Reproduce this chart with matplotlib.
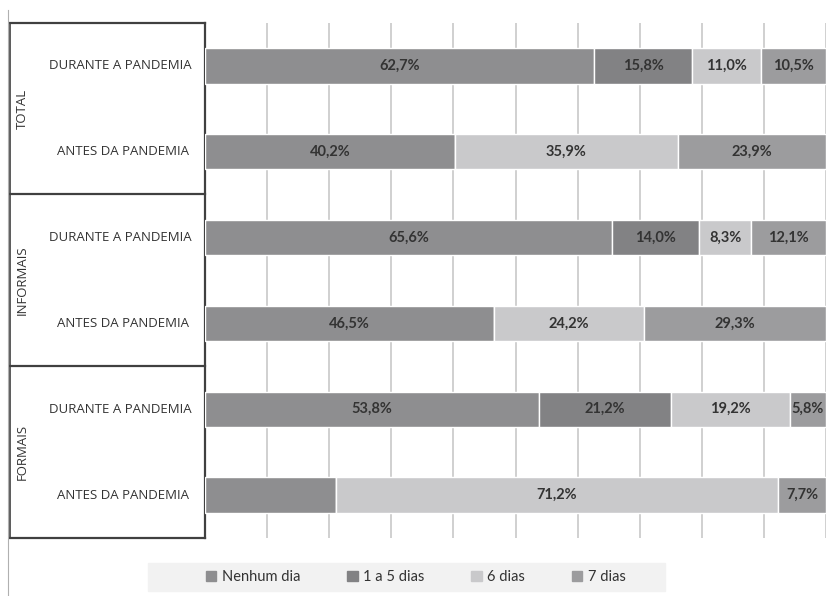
import matplotlib.pyplot as plt
import matplotlib.lines as mlines
import matplotlib.patches as mpatches
import numpy as np

plt.rcParams['font.family'] = ['Lato', 'DejaVu Sans']

#%% data
groups = ['TOTAL', 'INFORMAIS', 'FORMAIS']
rows = ['DURANTE A PANDEMIA', 'ANTES DA PANDEMIA'] * 3
series = ['Nenhum dia', '1 a 5 dias', '6 dias', '7 dias']
nenhum = [62.7, 40.2, 65.6, 46.5, 53.8, 21.1]
um_a_cinco = [15.8, 0.0, 14.0, 0.0, 21.2, 0.0]
seis = [11.0, 35.9, 8.3, 24.2, 19.2, 71.2]
sete = [10.5, 23.9, 12.1, 29.3, 5.8, 7.7]
# labels shown in the original (bottom "Nenhum dia" bar has none)
show_label = [[True, True, True, True, True, False],
              [True, False, True, False, True, False],
              [True] * 6,
              [True] * 6]

colors = ['#8e8e90', '#828284', '#c9c9cb', '#9c9c9e']

W, H = 836, 596
fig = plt.figure(figsize=(W / 100, H / 100), dpi=100)
ax = fig.add_axes([205 / W, (H - 538) / H, (826 - 205) / W, (538 - 23) / H])

y = np.arange(len(rows))
left = np.zeros(len(rows))
for k, vals in enumerate([nenhum, um_a_cinco, seis, sete]):
    vals = np.array(vals)
    ax.barh(y, vals, left=left, height=0.41, color=colors[k],
            edgecolor='white', linewidth=1, zorder=3)
    for i in range(len(rows)):
        if vals[i] > 0 and show_label[k][i]:
            ax.text(left[i] + vals[i] / 2, y[i], f'{vals[i]:.1f}%'.replace('.', ','),
                    ha='center', va='center', fontsize=10.5, fontweight='bold',
                    color='#333333', zorder=4)
    left += vals

ax.set_xlim(0, 100)
ax.set_ylim(len(rows) - 0.5, -0.5)
ax.set_xticks(np.arange(0, 101, 10))
ax.xaxis.grid(True, color='#c8c8c8', linewidth=1.2, zorder=0)
ax.tick_params(left=False, bottom=False, labelleft=False, labelbottom=False)
for s in ['top', 'right', 'bottom']:
    ax.spines[s].set_visible(False)
ax.spines['left'].set_color('#404040')
ax.spines['left'].set_linewidth(1.6)

# row labels
for i, r in enumerate(rows):
    yy = (538 - 23) / len(rows) * (i + 0.5) + 23
    ax_x = 192 if i % 2 == 0 else 189
    fig.text(ax_x / W, 1 - yy / H, r, ha='right', va='center',
             fontsize=9.5, color='#333333', family=['Open Sans', 'DejaVu Sans'])

# group boxes
edges = [23, 194, 366, 538]
for e in edges:
    fig.add_artist(mlines.Line2D([10 / W, 205 / W], [1 - e / H, 1 - e / H],
                                 color='#404040', linewidth=1.6))
fig.add_artist(mlines.Line2D([10 / W, 10 / W], [1 - 23 / H, 1 - 538 / H],
                             color='#404040', linewidth=1.2))
fig.add_artist(mlines.Line2D([8 / W, 8 / W], [1 - 10 / H, 0],
                             color='#b0b0b0', linewidth=0.8))
for g, (a, b) in zip(groups, zip(edges[:-1], edges[1:])):
    fig.text(22 / W, 1 - (a + b) / 2 / H, g, rotation=90, ha='center', va='center',
             fontsize=9.5, color='#333333', family=['Open Sans', 'DejaVu Sans'])

# legend
fig.add_artist(mpatches.Rectangle((148 / W, 1 - 591 / H), (665 - 148) / W, 28 / H,
                                  color='#f2f2f2', zorder=0))
handles = [mpatches.Patch(color=c, label=s) for c, s in zip(colors, series)]
fig.legend(handles=handles, loc='center', bbox_to_anchor=(416 / W, 1 - 577 / H),
           ncol=4, frameon=False, fontsize=10.5, handlelength=0.7, handleheight=0.7,
           handletextpad=0.4, columnspacing=3.2, labelcolor='#333333')

fig.savefig('out.png', dpi=100)
